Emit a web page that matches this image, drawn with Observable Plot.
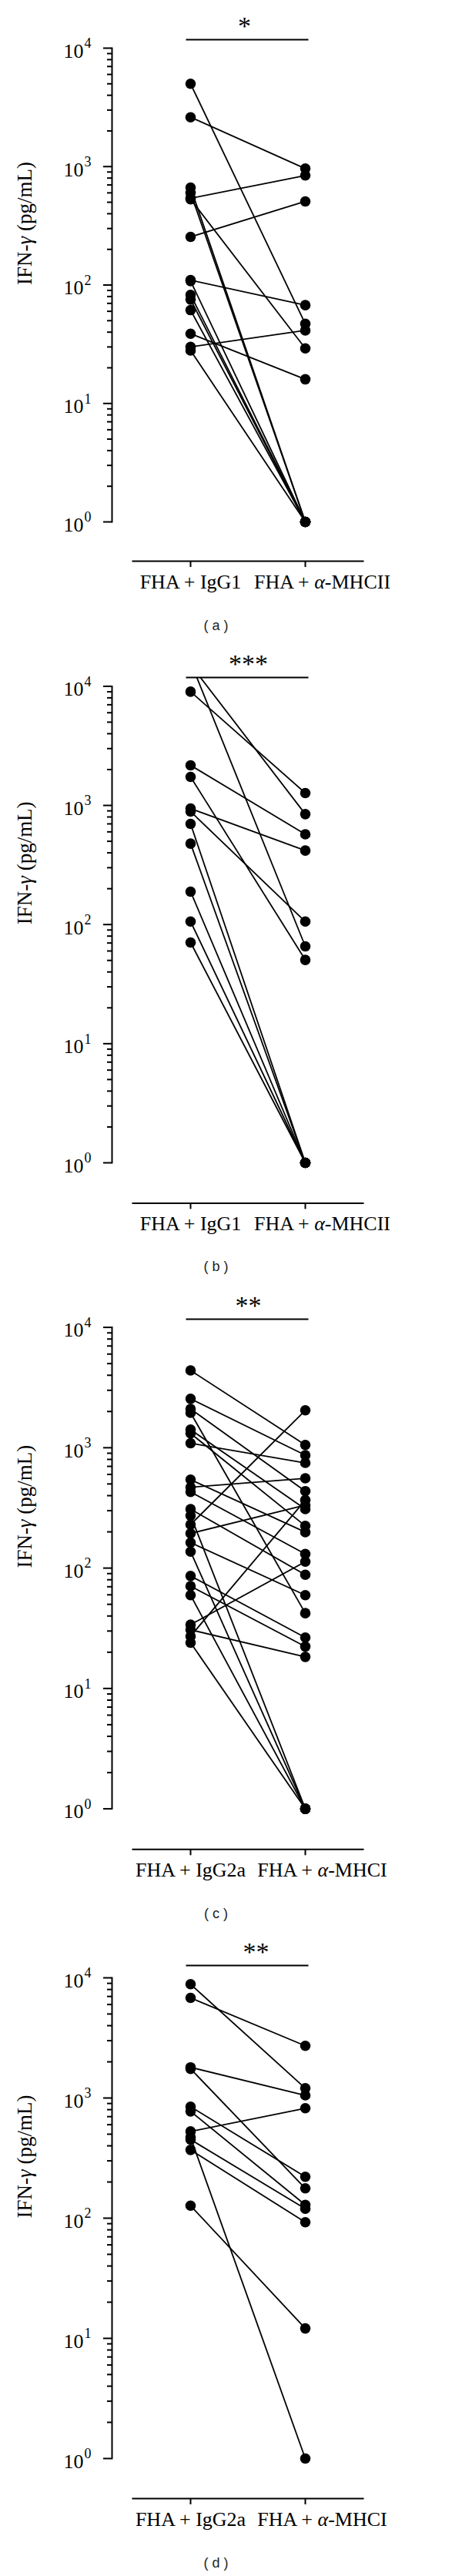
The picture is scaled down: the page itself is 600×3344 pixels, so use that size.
<!DOCTYPE html>
<html><head><meta charset="utf-8">
<script src="https://cdn.jsdelivr.net/npm/d3@7"></script>
<script src="https://cdn.jsdelivr.net/npm/@observablehq/plot@0.6"></script>
<style>
html,body{margin:0;padding:0;background:#fff;}
#page{position:relative;width:600px;height:3344px;overflow:hidden;background:#fff;}
.panel{position:absolute;left:0;width:600px;}
.cap{position:absolute;width:100px;text-align:center;font-family:"Liberation Sans",Arial,sans-serif;font-size:18px;letter-spacing:5px;color:#231f20;}
</style></head><body><div id="page"></div>
<script>
// ---- categories ----
const groupsMHCII = ["FHA + IgG1", "FHA + α-MHCII"];
const groupsMHCI = ["FHA + IgG2a", "FHA + α-MHCI"];

// ---- panel (a): IFN-γ, paired values (pg/mL) ----
const aIgG1 = [5000, 2610, 665, 600, 540, 530, 255, 110, 108, 82.6, 75.4, 61.4, 38.8, 30, 28];
const aAntiMHCII = [47, 962, 1, 1, 841, 29.2, 508, 67.6, 1, 1, 1, 1, 16, 41.4, 1];

// ---- panel (b) ----
const bIgG1 = [15200, 16000, 9010, 2170, 1735, 942, 889, 700, 478, 189, 106, 70.7];
const bAntiMHCII = [845, 65.6, 1270, 573, 50.5, 418, 106, 1, 1, 1, 1, 1];

// ---- panel (c) ----
const cIgG2a = [4385, 2550, 2100, 1950, 1415, 1315, 1090, 543, 469, 429, 309, 273, 230, 194, 163, 137, 86, 70.8, 59.6, 33.9, 30.7, 27.2, 24.0];
const cAntiMHCI = [1054, 867, 436, 42.2, 309, 224, 748, 199, 557, 131, 88, 1, 2045, 333, 59.6, 1, 26.5, 22.3, 1, 113, 18.3, 367, 1];

// ---- panel (d) ----
const dIgG2a = [8850, 6810, 1800, 1750, 847, 774, 527, 451, 470, 370, 127];
const dAntiMHCI = [1206, 2717, 1052, 177, 221, 129, 822, 120, 1, 92.5, 12.1];

// ---- significance labels, captions ----
const significance = ["*", "***", "**", "**"];
const captions = ["(a)", "(b)", "(c)", "(d)"];
const yLabel = "IFN-γ (pg/mL)";

// ---- tick values / labels ----
const majorTicks = [1, 10, 100, 1000, 10000];
const exponentLabels = ["0", "1", "2", "3", "4"];
const minorTicks = [2,3,4,5,6,7,8,9,20,30,40,50,60,70,80,90,200,300,400,500,600,700,800,900,2000,3000,4000,5000,6000,7000,8000,9000];

// ---- layout (page pixels) ----
const layout = [
  {top: 6,      barY: 51,     y10k: 62,     y1: 677,    xAxisY: 728,    starDx: 9,  capY: 813},
  {top: 834.3,  barY: 879.3,  y10k: 890.7,  y1: 1509.3, xAxisY: 1561.7, starDx: 14, capY: 1645},
  {top: 1666.7, barY: 1711.7, y10k: 1722.3, y1: 2347.3, xAxisY: 2400,   starDx: 14, capY: 2485},
  {top: 2505.7, barY: 2550.7, y10k: 2566.7, y1: 3190.7, xAxisY: 3242.7, starDx: 24, capY: 3328}
];

const serif = '"Liberation Serif", "Times New Roman", serif';
const blank = () => "";

function makePanel(L, groups, control, treated, stars) {
  const marginTop = L.barY - L.top;
  const marginBottom = 60;
  const height = L.xAxisY - L.top + marginBottom;
  const insetTop = L.y10k - L.barY;
  const insetBottom = L.xAxisY - L.y1;
  const pairs = control.map((v, i) => ({before: v, after: treated[i]}));
  const points = pairs.flatMap(p => [{g: groups[0], v: p.before}, {g: groups[1], v: p.after}]);
  return Plot.plot({
    width: 600, height, marginTop, marginBottom, marginLeft: 145, marginRight: 129,
    style: {fontFamily: serif, fontSize: "24px", background: "transparent", color: "#000", overflow: "visible"},
    x: {type: "point", domain: groups, padding: 0.5, insetLeft: 27, axis: null},
    y: {type: "log", domain: [1, 10000], insetTop, insetBottom, axis: null},
    marks: [
      Plot.frame({anchor: "left", insetTop, insetBottom, strokeWidth: 2}),
      Plot.frame({anchor: "bottom", insetLeft: 27, strokeWidth: 2}),
      Plot.frame({anchor: "top", insetLeft: 97, insetRight: 72, strokeWidth: 2}),
      Plot.axisY(minorTicks, {anchor: "left", tickSize: 6, tickFormat: blank, label: null, strokeWidth: 2}),
      Plot.axisY(majorTicks, {anchor: "left", tickSize: 11, tickFormat: blank, label: null, strokeWidth: 2}),
      Plot.text(majorTicks, {frameAnchor: "left", y: d => d, text: () => "10", textAnchor: "end", dx: -37, dy: 4, fontSize: 26}),
      Plot.text(majorTicks, {frameAnchor: "left", y: d => d, text: (d, i) => exponentLabels[i], textAnchor: "start", dx: -36, dy: -6, fontSize: 18}),
      Plot.text([yLabel], {frameAnchor: "left", y: () => 100, text: d => d, rotate: -90, dx: -113, fontSize: 27}),
      Plot.axisX({anchor: "bottom", tickSize: 8, tickFormat: blank, label: null, strokeWidth: 2}),
      Plot.text([groups[0]], {x: d => d, text: d => d, frameAnchor: "bottom", dy: 35, fontSize: 26}),
      Plot.text([groups[1]], {x: d => d, text: d => d, frameAnchor: "bottom", dy: 35, dx: 22, fontSize: 26}),
      Plot.text([stars], {frameAnchor: "top", text: d => d, dx: L.starDx, dy: -17, lineAnchor: "middle", fontSize: 34, fontWeight: 300}),
      Plot.link(pairs, {x1: () => groups[0], x2: () => groups[1], y1: "before", y2: "after", stroke: "#000", strokeWidth: 1.8, clip: true}),
      Plot.dot(points, {x: "g", y: "v", r: 6.8, fill: "#000", stroke: "none", clip: true})
    ]
  });
}

function italicizeGreek(svg) {
  svg.querySelectorAll("text").forEach(t => {
    if (t.querySelector("tspan")) return;
    const s = t.textContent;
    if (!/[αγ]/.test(s)) return;
    t.textContent = "";
    for (const part of s.split(/([αγ])/)) {
      if (!part) continue;
      const ts = document.createElementNS("http://www.w3.org/2000/svg", "tspan");
      ts.textContent = part;
      if (part === "α" || part === "γ") ts.setAttribute("font-style", "italic");
      t.appendChild(ts);
    }
  });
}

const page = document.getElementById("page");
const sets = [
  [groupsMHCII, aIgG1, aAntiMHCII],
  [groupsMHCII, bIgG1, bAntiMHCII],
  [groupsMHCI, cIgG2a, cAntiMHCI],
  [groupsMHCI, dIgG2a, dAntiMHCI]
];
sets.forEach(([g, c, t], i) => {
  const L = layout[i];
  const div = document.createElement("div");
  div.className = "panel";
  div.style.top = L.top + "px";
  const svg = makePanel(L, g, c, t, significance[i]);
  italicizeGreek(svg);
  div.appendChild(svg);
  page.appendChild(div);
  const cap = document.createElement("div");
  cap.className = "cap";
  cap.style.left = "233px";
  cap.style.top = (L.capY - 11) + "px";
  cap.textContent = captions[i];
  page.appendChild(cap);
});
</script>
</body></html>
